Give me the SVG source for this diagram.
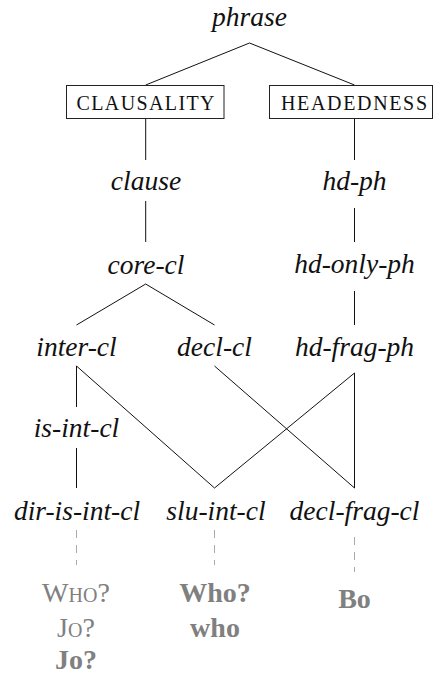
<svg xmlns="http://www.w3.org/2000/svg" width="433" height="678" viewBox="0 0 433 678">
<style>
.n{font-family:"Liberation Serif","DejaVu Serif",serif;font-style:italic;font-size:27.5px;fill:#111;text-anchor:middle}
.b{font-family:"Liberation Serif","DejaVu Serif",serif;font-size:20px;fill:#111;text-anchor:middle}
.box{fill:#fff;stroke:#222;stroke-width:1}
.c line{stroke:#111;stroke-width:1}
.d line{stroke:#aaa;stroke-width:1;stroke-dasharray:8 7}
.g{font-family:"Liberation Serif","DejaVu Serif",serif;font-size:28px;fill:#808080;text-anchor:middle}
.gb{font-weight:bold}
</style>
<rect width="433" height="678" fill="#fff"/>
<g id="connectors" class="c">
<line x1="249.5" y1="43" x2="145.7" y2="85"/>
<line x1="249.5" y1="43" x2="354.5" y2="85"/>
<line x1="145.7" y1="118.5" x2="145.7" y2="160"/>
<line x1="354.5" y1="118.5" x2="354.5" y2="160"/>
<line x1="145.7" y1="201" x2="145.7" y2="242"/>
<line x1="354.5" y1="208" x2="354.5" y2="242"/>
<line x1="145.7" y1="284" x2="76.5" y2="325"/>
<line x1="145.7" y1="284" x2="214.5" y2="325"/>
<line x1="354.5" y1="291" x2="354.5" y2="325"/>
<line x1="76.5" y1="366" x2="76.5" y2="407"/>
<line x1="76.5" y1="366" x2="214.5" y2="488"/>
<line x1="214.5" y1="366" x2="354.5" y2="488"/>
<line x1="354.5" y1="373" x2="214.5" y2="488"/>
<line x1="354.5" y1="373" x2="354.5" y2="488"/>
<line x1="76.5" y1="448" x2="76.5" y2="488"/>
</g>
<g id="examples-links" class="d">
<line x1="76.5" y1="530" x2="76.5" y2="565"/>
<line x1="214.5" y1="530" x2="214.5" y2="565"/>
<line x1="354.5" y1="537" x2="354.5" y2="572"/>
</g>
<g id="phrase"><text class="n" x="249.5" y="26">phrase</text></g>
<g id="clausality"><rect class="box" x="66.5" y="85.5" width="157.5" height="33"/><text class="b" x="145.5" y="110" textLength="138" lengthAdjust="spacing">CLAUSALITY</text></g>
<g id="headedness"><rect class="box" x="269.5" y="85.5" width="163" height="33"/><text class="b" x="354" y="110" textLength="146" lengthAdjust="spacing">HEADEDNESS</text></g>
<g id="clause"><text class="n" x="146" y="190">clause</text></g>
<g id="hd-ph"><text class="n" x="354.5" y="190">hd-ph</text></g>
<g id="core-cl"><text class="n" x="146" y="274">core-cl</text></g>
<g id="hd-only-ph"><text class="n" x="354.5" y="273">hd-only-ph</text></g>
<g id="inter-cl"><text class="n" x="76.5" y="356">inter-cl</text></g>
<g id="decl-cl"><text class="n" x="214.5" y="356">decl-cl</text></g>
<g id="hd-frag-ph"><text class="n" x="354.5" y="356">hd-frag-ph</text></g>
<g id="is-int-cl"><text class="n" x="76.5" y="437">is-int-cl</text></g>
<g id="dir-is-int-cl"><text class="n" x="77" y="520">dir-is-int-cl</text></g>
<g id="slu-int-cl"><text class="n" x="216" y="520">slu-int-cl</text></g>
<g id="decl-frag-cl"><text class="n" x="354.5" y="520">decl-frag-cl</text></g>
<g id="ex-dir">
<text class="g" x="76" y="602">W<tspan font-size="20">HO</tspan>?</text>
<text class="g" x="76" y="637">J<tspan font-size="20">O</tspan>?</text>
<text class="g gb" x="76" y="669">Jo?</text>
</g>
<g id="ex-slu">
<text class="g gb" x="215" y="602">Who?</text>
<text class="g gb" x="215" y="637">who</text>
</g>
<g id="ex-decl">
<text class="g gb" x="354.5" y="608">Bo</text>
</g>
</svg>
